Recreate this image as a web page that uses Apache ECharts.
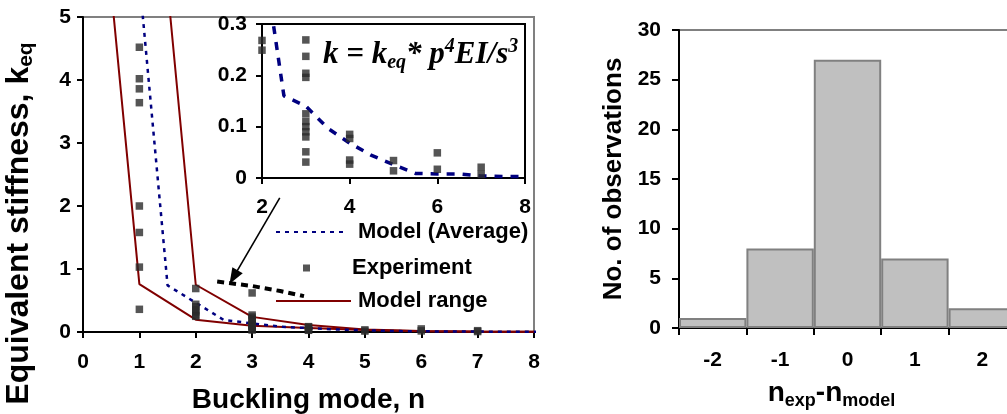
<!DOCTYPE html>
<html><head><meta charset="utf-8">
<script src="https://cdn.jsdelivr.net/npm/echarts@6/dist/echarts.min.js"></script>
<style>html,body{margin:0;padding:0;background:#fff}#c{width:1007px;height:414px}</style>
</head><body><div id="c"></div>
<script>
// ---- Left panel: equivalent stiffness vs buckling mode ----
const expN = [1,1,1,1,1,1,1,1, 2,2,2,2,2,2,2, 3,3,3,3,3,3,3,3,3,3,3,3, 4,4,4,4, 5,5, 6,6, 7,7];
const expK = [4.52,4.02,3.86,3.64,2.0,1.58,1.03,0.36, 0.69,0.44,0.40,0.35,0.32,0.268,0.249, 0.62,0.269,0.237,0.204,0.196,0.125,0.11,0.10,0.09,0.08,0.051,0.031, 0.085,0.077,0.035,0.027, 0.034,0.014, 0.049,0.017, 0.021,0.007];
const avgN = [1.0,1.5,2.5,3.5,4.5,5.5,6.5,7.5,8.5];
const avgK = [5.6,0.74,0.19,0.085,0.04,0.015,0.008,0.005,0.003];
const lowN = [0.5,1,2,3,4,5,6,7,8];
const lowK = [5.43,0.76,0.195,0.1,0.065,0.03,0.01,0.005,0.003];
const upN = [1.5,2,3,4,5,6,7,8];
const upK = [5.47,0.75,0.24,0.11,0.04,0.015,0.008,0.005];
// inset curve k = keq * p^4 EI / s^3
const kCurveN = [2.0,2.5,3.0,3.5,4.0,4.5,5.0,5.5,6.0,6.5,7.0,7.5,8.0];
const kCurveK = [0.45,0.16,0.14,0.097,0.068,0.044,0.026,0.009,0.008,0.008,0.004,0.003,0.003];
// short black dashed cue line and arrow pointing from inset
const cueN = [2.38,3.0,3.5,3.92];
const cueK = [0.80,0.73,0.65,0.57];
const arrowFrom = [3.49,2.13];
const arrowTo = [2.67,0.87];
// ---- Right panel: histogram ----
const diffCats = ['-2','-1','0','1','2'];
const diffCounts = [1,8,27,7,2];

const zip = (a,b) => a.map((v,i) => [v,b[i]]);
const bold = {fontFamily:'Liberation Sans, Arial, sans-serif', fontWeight:'bold', color:'#000'};
const axisLine = {show:true, lineStyle:{color:'#000', width:2}};
const axisTick = {show:true, inside:false, length:6, lineStyle:{color:'#000', width:2}};
const serif = 'Liberation Serif, Times New Roman, serif';

const chart = echarts.init(document.getElementById('c'), null, {renderer:'canvas'});
chart.setOption({
  animation:false,
  backgroundColor:'#fff',
  grid:[
    {left:83, top:17, width:451, height:315, outerBoundsMode:'none', containLabel:false, show:true, borderColor:'#808080', borderWidth:2, backgroundColor:'transparent'},
    {left:262, top:24, width:263, height:154, outerBoundsMode:'none', containLabel:false, show:true, borderColor:'#000', borderWidth:2, backgroundColor:'#fff', z:3},
    {left:679, top:30, width:337, height:298, outerBoundsMode:'none', containLabel:false, show:true, borderColor:'#808080', borderWidth:2, backgroundColor:'transparent'}
  ],
  legend:[
    {data:['Model (Average)'], left:270, top:216, itemWidth:71, itemHeight:14, padding:5, selectedMode:false,
     itemStyle:{opacity:0},
     textStyle:Object.assign({fontSize:22, padding:[0,0,0,6]}, bold)},
    {data:['Experiment'], left:298, top:252, itemWidth:7, itemHeight:7, padding:5, selectedMode:false,
     textStyle:Object.assign({fontSize:22, padding:[0,0,0,37]}, bold)},
    {data:['Model range'], left:270, top:285, itemWidth:75, itemHeight:14, padding:5, selectedMode:false,
     itemStyle:{opacity:0},
     textStyle:Object.assign({fontSize:22, padding:[0,0,0,2]}, bold)}
  ],
  xAxis:[
    {gridIndex:0, type:'value', min:0, max:8, interval:1, axisLine, axisTick, splitLine:{show:false},
     axisLabel:Object.assign({fontSize:21, margin:20}, bold),
     name:'Buckling mode, n', nameLocation:'middle', nameGap:54,
     nameTextStyle:Object.assign({fontSize:28}, bold)},
    {gridIndex:1, type:'value', min:2, max:8, interval:2, axisLine, axisTick, splitLine:{show:false},
     axisLabel:Object.assign({fontSize:21, margin:19}, bold)},
    {gridIndex:2, type:'category', data:diffCats, axisLine, axisTick:{show:true, length:7, alignWithLabel:false, lineStyle:{color:'#000', width:2}},
     axisLabel:Object.assign({fontSize:21, margin:22}, bold),
     name:'{b|n}{s|exp}{b|-n}{s|model}', nameLocation:'middle', nameGap:48,
     nameTextStyle:{padding:[0,32,0,0], rich:{
       b:Object.assign({fontSize:28, lineHeight:34}, bold),
       s:Object.assign({fontSize:18, lineHeight:18, verticalAlign:'bottom'}, bold)}}}
  ],
  yAxis:[
    {gridIndex:0, type:'value', min:0, max:5, interval:1, axisLine, axisTick, splitLine:{show:false},
     axisLabel:Object.assign({fontSize:21, margin:12}, bold),
     name:'{a|Equivalent stiffness, k}{s|eq}', nameLocation:'middle', nameGap:46,
     nameTextStyle:{padding:[0,98,0,0], rich:{
       a:Object.assign({fontSize:32, lineHeight:36}, bold),
       s:Object.assign({fontSize:21, lineHeight:21, verticalAlign:'bottom'}, bold)}}},
    {gridIndex:1, type:'value', min:0, max:0.3, interval:0.1, axisLine, axisTick, splitLine:{show:false},
     axisLabel:Object.assign({fontSize:21, margin:15}, bold)},
    {gridIndex:2, type:'value', min:0, max:30, interval:5, axisLine, axisTick:{show:true, length:7, lineStyle:{color:'#000', width:2}}, splitLine:{show:false},
     axisLabel:Object.assign({fontSize:21, margin:18}, bold),
     name:'No. of observations', nameLocation:'middle', nameGap:52,
     nameTextStyle:Object.assign({fontSize:26}, bold)}
  ],
  graphic:[
    {type:'text', left:323, top:37, z:10, style:{
      text:'{i|k = k}{sub|eq}{i|* p}{sup|4}{i|EI/s}{sup|3}',
      rich:{
        i:{fontFamily:serif, fontStyle:'italic', fontWeight:'bold', fontSize:31, lineHeight:36, fill:'#000'},
        sub:{fontFamily:serif, fontStyle:'italic', fontWeight:'bold', fontSize:20, lineHeight:20, verticalAlign:'bottom', fill:'#000'},
        sup:{fontFamily:serif, fontStyle:'italic', fontWeight:'bold', fontSize:20, lineHeight:20, verticalAlign:'top', fill:'#000'}
      }}}
  ],
  series:[
    {name:'Model range', type:'line', xAxisIndex:0, yAxisIndex:0, data:zip(lowN,lowK), showSymbol:false, symbol:'none', clip:true,
     lineStyle:{color:'#800000', width:2}, itemStyle:{color:'#800000'}, z:2},
    {name:'Model range', type:'line', xAxisIndex:0, yAxisIndex:0, data:zip(upN,upK), showSymbol:false, symbol:'none', clip:true,
     lineStyle:{color:'#800000', width:2}, itemStyle:{color:'#800000'}, z:2},
    {name:'Model (Average)', type:'line', xAxisIndex:0, yAxisIndex:0, data:zip(avgN,avgK), showSymbol:false, symbol:'none', clip:true,
     lineStyle:{color:'#000080', width:2.5, type:[4,5]}, itemStyle:{color:'#000080'}, z:2},
    {name:'cue', type:'line', xAxisIndex:0, yAxisIndex:0, data:zip(cueN,cueK), showSymbol:false, symbol:'none',
     lineStyle:{color:'#000', width:4, type:[7,5]}, z:2,
     markLine:{silent:true, symbol:['none','triangle'], symbolSize:[12,16], label:{show:false},
       lineStyle:{color:'#000', width:1.6, type:'solid'},
       data:[[{coord:arrowFrom}, {coord:arrowTo}]]}},
    {name:'Experiment', type:'scatter', xAxisIndex:0, yAxisIndex:0, data:zip(expN,expK), symbol:'rect', symbolSize:7.5,
     itemStyle:{color:'#2a2a2a'}, z:3},
    {name:'k curve', type:'line', xAxisIndex:1, yAxisIndex:1, data:zip(kCurveN,kCurveK), showSymbol:false, symbol:'none', clip:true,
     lineStyle:{color:'#000080', width:3.5, type:[8,8]}, z:5},
    {name:'Experiment inset', type:'scatter', xAxisIndex:1, yAxisIndex:1, data:zip(expN,expK), symbol:'rect', symbolSize:7.5, clip:true,
     itemStyle:{color:'#2a2a2a'}, z:6},
    {name:'Observations', type:'bar', xAxisIndex:2, yAxisIndex:2, data:diffCounts, barCategoryGap:'0%',
     itemStyle:{color:'#c0c0c0', borderColor:'#808080', borderWidth:2}}
  ]
});
</script></body></html>
